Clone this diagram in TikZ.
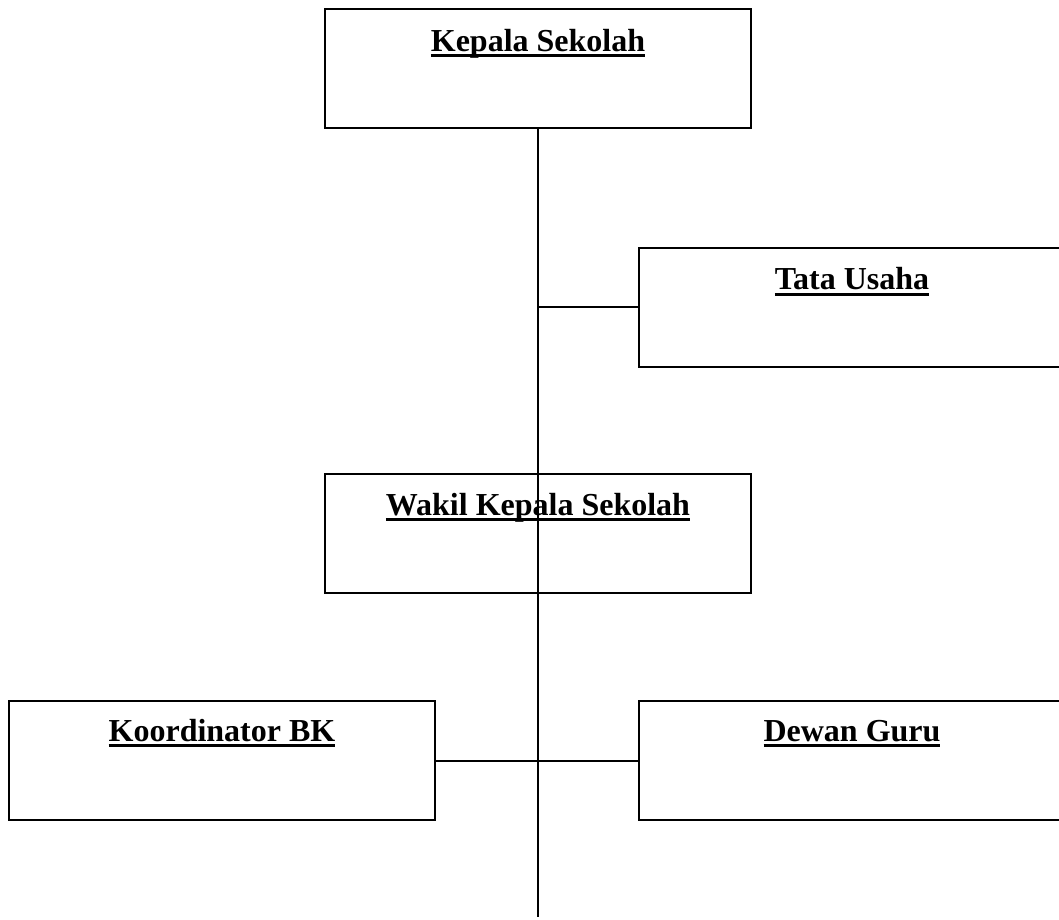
\documentclass[tikz,border=0pt]{standalone}
\usepackage{fontspec}
\setmainfont{Liberation Serif}
\newcommand{\ultitle}[1]{\setbox0=\hbox{\bfseries #1}\rlap{\rule[-6pt]{\wd0}{3pt}}\box0}
\begin{document}
\begin{tikzpicture}[x=1pt, y=-1pt, every node/.style={font=\fontsize{32}{38}\selectfont}]
    \tikzstyle{unit_box}=[draw, line width=2pt, minimum width=426pt, minimum height=119pt, inner sep=0pt]
    \tikzstyle{unit_title}=[anchor=base, inner sep=0pt]
    \tikzstyle{link}=[line width=2pt]
    \useasboundingbox (0,0) rectangle (1059,919);

    % --- boxes ---
    \node[unit_box] (kepala) at (538,68.5) {};
    \node[unit_box] (tata) at (852,307) {};
    \node[unit_box] (wakil) at (538,533.5) {};
    \node[unit_box] (koord) at (222,760.5) {};
    \node[unit_box] (dewan) at (852,760.5) {};

    % --- titles ---
    \node[unit_title] (kepala_t) at ([yshift=-43pt]kepala.north) {\ultitle{Kepala Sekolah}};
    \node[unit_title] (tata_t) at ([yshift=-43pt]tata.north) {\ultitle{Tata Usaha}};
    \node[unit_title] (wakil_t) at ([yshift=-42pt]wakil.north) {\ultitle{Wakil Kepala Sekolah}};
    \node[unit_title] (koord_t) at ([yshift=-41pt]koord.north) {\ultitle{Koordinator BK}};
    \node[unit_title] (dewan_t) at ([yshift=-41pt]dewan.north) {\ultitle{Dewan Guru}};

    % --- lines ---
    \coordinate (spine_end) at (538,917);
    \draw[link] (kepala.south) -- (spine_end);
    \draw[link] (tata.west) -- (tata.west -| kepala.south);
    \draw[link] (koord.east) -- (dewan.west);
\end{tikzpicture}
\end{document}
